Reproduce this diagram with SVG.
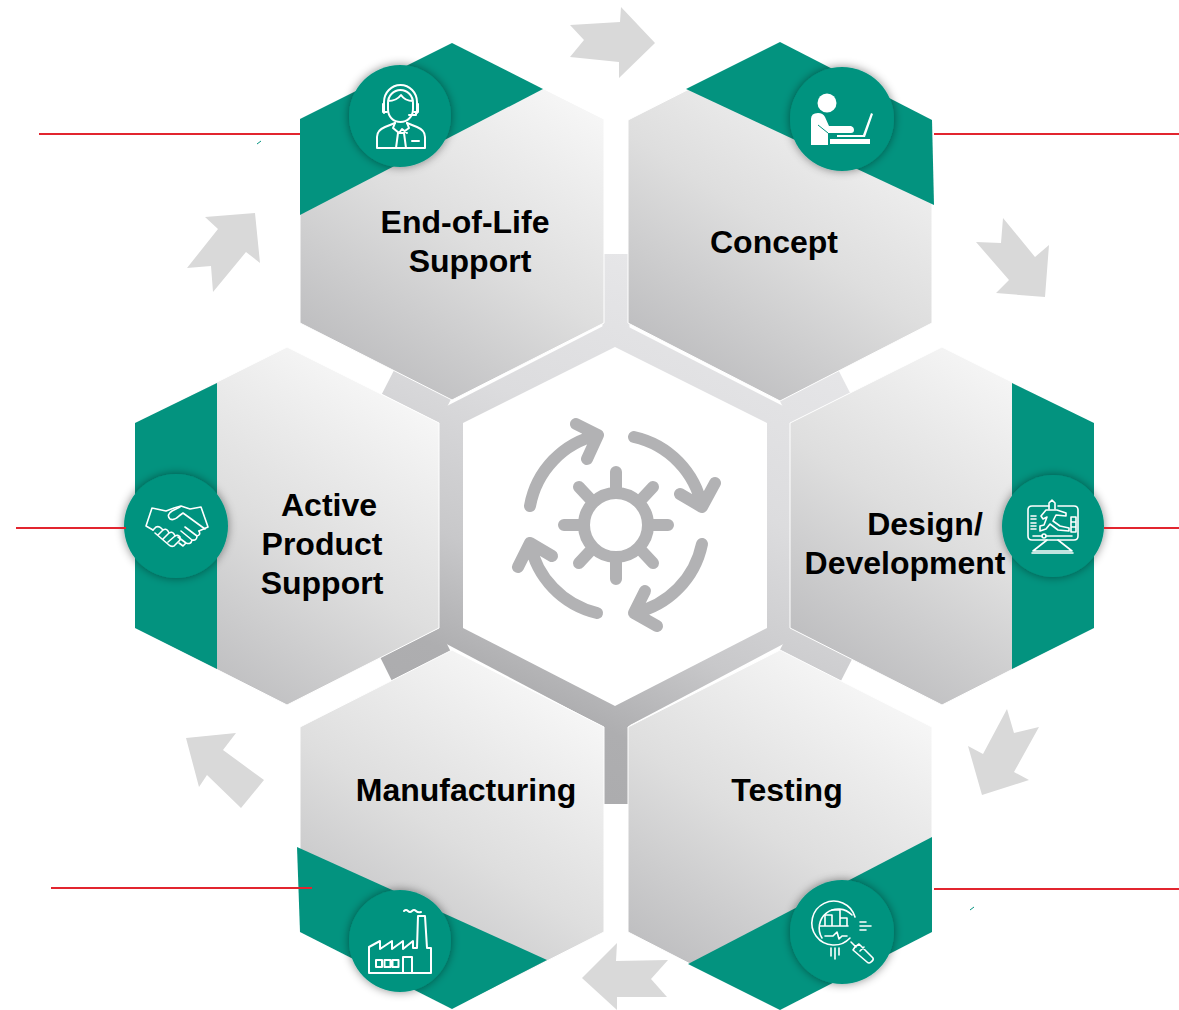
<svg xmlns="http://www.w3.org/2000/svg" width="1179" height="1010" viewBox="0 0 1179 1010">
<style>
.hex{fill:url(#hexg);stroke:#fff;stroke-width:1}
.band{fill:#03937f}
.badge{fill:#03937f;filter:url(#sh)}
.ic{fill:none;stroke:#fff;stroke-width:2;stroke-linecap:round;stroke-linejoin:round}
.thin{stroke-width:1.6}
.icf{fill:#fff}
.lab{font-family:"Liberation Sans",Arial,sans-serif;font-weight:700;font-size:32px;fill:#000;text-anchor:middle}
.red{stroke:#e2252f;stroke-width:1.8;fill:none}
.arw{fill:#d9d9d9}
.spoke{stroke:url(#bandg);stroke-width:27;fill:none}
.gear{fill:none;stroke:#b2b2b4;stroke-width:12;stroke-linecap:round;stroke-linejoin:round}
</style>
<defs>
<linearGradient id="hexg" x1="0.7" y1="0.05" x2="0.2" y2="0.95">
<stop offset="0" stop-color="#f6f6f6"/><stop offset="0.5" stop-color="#dedede"/><stop offset="1" stop-color="#bcbcbe"/>
</linearGradient>
<linearGradient id="bandg" gradientUnits="userSpaceOnUse" x1="720" y1="300" x2="500" y2="750">
<stop offset="0" stop-color="#e6e6e8"/><stop offset="0.35" stop-color="#dcdcde"/><stop offset="0.55" stop-color="#cfcfd1"/><stop offset="0.66" stop-color="#c8c8ca"/><stop offset="0.87" stop-color="#aeaeb0"/><stop offset="1" stop-color="#acacae"/>
</linearGradient>
<filter id="sh" x="-30%" y="-30%" width="160%" height="160%"><feDropShadow dx="0" dy="0" stdDeviation="5" flood-color="#000" flood-opacity="0.45"/></filter>
</defs>
<rect width="1179" height="1010" fill="#fff"/>

<g id="hub">
<polygon fill="url(#bandg)" points="615,320 791,410 791,640 615,733 439,640 439,410"/>
<path class="spoke" d="M616,254V340M616,715V804M445,411L388,382M785,411L844,381M445,640L386,669M785,640L846,671"/>
<polygon fill="#fff" points="615,347 767,423 767,628 615,706 463,628 463,423"/>
<g id="gear-icon" class="gear">
<circle cx="616" cy="525" r="32"/>
<path d="M616,472V493M616,557V579M564,525H584M648,525H668M579,487L593,502M653,487L639,502M579,563L593,548M653,563L639,548"/>
<path d="M634,437A89,89 0 0 1 702,507M715,483L702,507L680,494"/>
<path d="M530,506A89,89 0 0 1 598,435M576,424L598,435L587,459"/>
<path d="M702,544A89,89 0 0 1 634,613M645,591L634,613L657,626"/>
<path d="M597,613A89,89 0 0 1 530,543M518,567L530,543L552,556"/>
</g>
</g>

<g id="node-end-of-life">
<polygon class="hex" points="452,43 604,119 604,323 452,400 300,323 300,119"/>
<polygon class="band" points="300,119 452,43 543,89 300,215"/>
<circle class="badge" cx="400" cy="116" r="51"/>
<g class="ic">
<path d="M384,113V102a16.500,17 0 0 1 33,0V113"/>
<path d="M388,103a12.500,13 0 0 1 25,0V109c0,8 -6,13 -12.500,13c-7,0 -12.500,-5 -12.500,-13ZM388,101c5,0 10,-2 13,-6c2,3 6,6 12,6"/>
<path d="M384,104h-1v8h4M417,104h1v8h-4M416,112v3h-7"/>
<path d="M377,148V137c0,-5 3,-8 8,-10l10,-4M425,148V137c0,-5 -3,-8 -8,-10l-10,-4M378,148H425"/>
<path d="M395,123l-2,5l6,5l3,-4l5,4l0,0M407,123l2,5l-7,5M398,133l-2,15M404,133l2,15M398,133h6M412,141h7"/>
</g>
<text class="lab" x="465" y="233">End-of-Life</text>
<text class="lab" x="470" y="272">Support</text>
</g>

<g id="node-concept">
<polygon class="hex" points="780,43 932,120 932,323 780,401 628,323 628,120"/>
<polygon class="band" points="686,89 780,42 932,120 934,205"/>
<circle class="badge" cx="842" cy="119" r="52"/>
<circle class="icf" cx="827" cy="103" r="9.500"/>
<path class="icf" d="M811,145V119Q811,113 818,113Q823,113 825,117L829,126H851Q854,127 854,130Q854,133 851,133H828V145Z"/>
<path d="M818,125L828,133" stroke="#03937f" stroke-width="1" fill="none"/>
<path class="icf" d="M830,139H870V144H830ZM837,135H863L871,113L873,114L865,137H837Z"/>
<text class="lab" x="774" y="253">Concept</text>
</g>

<g id="node-design">
<polygon class="hex" points="942,347 1094,423 1094,628 942,705 790,628 790,423"/>
<polygon class="band" points="1012,383 1094,423 1094,628 1012,669"/>
<circle class="badge" cx="1053" cy="526" r="51"/>
<g class="ic thin">
<path d="M1049,506H1032Q1028,506 1028,510V536Q1028,540 1032,540H1074Q1078,540 1078,536V510Q1078,506 1074,506H1058"/>
<path d="M1047,540L1033,551H1072L1058,540M1032,553H1073"/>
<path d="M1033,536H1042M1046,536H1072M1031,516H1036M1031,519H1036M1031,523H1036M1031,526H1036M1031,529H1036"/>
<circle cx="1044" cy="536" r="2"/>
<path d="M1071,517h5v15h-5zM1071,522h5M1071,527h5"/>
<path d="M1049,509V503l3,-3l3,3v6"/>
<path d="M1041,516L1046,510H1057L1066,513L1066,516L1056,515L1053,521L1060,526L1069,528V531L1058,530L1050,524L1046,529L1040,531V526L1044,525L1047,517L1043,519Z"/>
</g>
<text class="lab" x="925" y="535">Design/</text>
<text class="lab" x="905" y="574">Development</text>
</g>

<g id="node-testing">
<polygon class="hex" points="780,650 932,727 932,932 780,1010 628,932 628,727"/>
<polygon class="band" points="688,964 932,837 932,932 780,1010"/>
<circle class="badge" cx="842" cy="932" r="52"/>
<g class="ic thin">
<path d="M850,938A22,22 0 1 1 855,917"/>
<path d="M822,938A19,19 0 0 1 852,915"/>
<path d="M825,926V915H832V926M832,910H840V926M840,918H847V926M820,926H848"/>
<path d="M825,936H833L837,932L839,939L842,936H847"/>
<path d="M851,942L856,947M855,947L859,944L873,958Q874,960 871,962Q869,964 867,962L853,950ZM860,951L864,947"/>
<path d="M860,922H866M860,926H871M860,930H866M831,948V956M835,948V959M839,948V955"/>
</g>
<text class="lab" x="787" y="801">Testing</text>
</g>

<g id="node-manufacturing">
<polygon class="hex" points="452,650 604,727 604,932 452,1009 300,932 300,727"/>
<polygon class="band" points="297,847 547,960 452,1009 300,932"/>
<circle class="badge" cx="400" cy="941" r="51"/>
<g class="ic">
<path d="M369,973V947L380,941V949L392,941V949L403,941V949L413,941V948H417L418,916H425L427,948H431V973Z"/>
<path d="M376,960h6v7h-6zM384.500,960h6v7h-6zM392.500,960h6v7h-6zM403,973V957H412V973"/>
<path d="M404,911q2,-2 4,0t4,0t4,0t5,1"/>
</g>
<text class="lab" x="466" y="801">Manufacturing</text>
</g>

<g id="node-support">
<polygon class="hex" points="287,347 439,423 439,628 287,705 135,628 135,423"/>
<polygon class="band" points="135,423 217,383 217,669 135,628"/>
<circle class="badge" cx="176" cy="526" r="52"/>
<g class="ic thin">
<path d="M152,508L146,526L153,530M152,508L166,511L174,508L181,506L190,509L201,507L208,527L199,531"/>
<path d="M180,507L172,511Q166,515 170,519Q174,521 179,516L183,513L205,529M199,531Q201,535 197,536L185,527M197,536Q197,541 192,540L181,531M192,540Q191,545 186,543L178,537M186,543L183,546L179,543"/>
<path d="M153,530L156,527Q159,526 161,528L163,530M158,535L163,530Q166,528 168,531L169,533M163,539L169,533Q172,531 174,534L175,536M168,542L175,536Q178,534 180,537L180,540L174,546Q171,547 169,545L155,533"/>
</g>
<text class="lab" x="329" y="516">Active</text>
<text class="lab" x="322" y="555">Product</text>
<text class="lab" x="322" y="594">Support</text>
</g>

<g id="connectors">
<path class="red" d="M39,134H300M934,134H1179M1104,528H1179M934,889H1179M51,888H312M16,528H126"/>
<path d="M257,144l4,-3M970,910l4,-3" stroke="#03937f" stroke-width="1" fill="none"/>
<polygon class="arw" points="570,25 620,22 621,7 655,43 619,78 619,62 570,57 584,40"/>
<polygon class="arw" points="1003,218 1035,257 1049,245 1045,297 996,293 1009,280 976,242 1001,243"/>
<polygon class="arw" points="1007,709 1014,733 1039,727 1014,772 1029,780 982,795 968,746 983,754"/>
<polygon class="arw" points="582,978 617,943 616,961 668,960 651,979 667,997 617,997 617,1010"/>
<polygon class="arw" points="186,738 236,733 223,750 264,780 241,808 207,775 199,787"/>
<polygon class="arw" points="255,213 205,217 218,229 187,268 211,266 213,292 246,252 260,263"/>
</g>
</svg>
